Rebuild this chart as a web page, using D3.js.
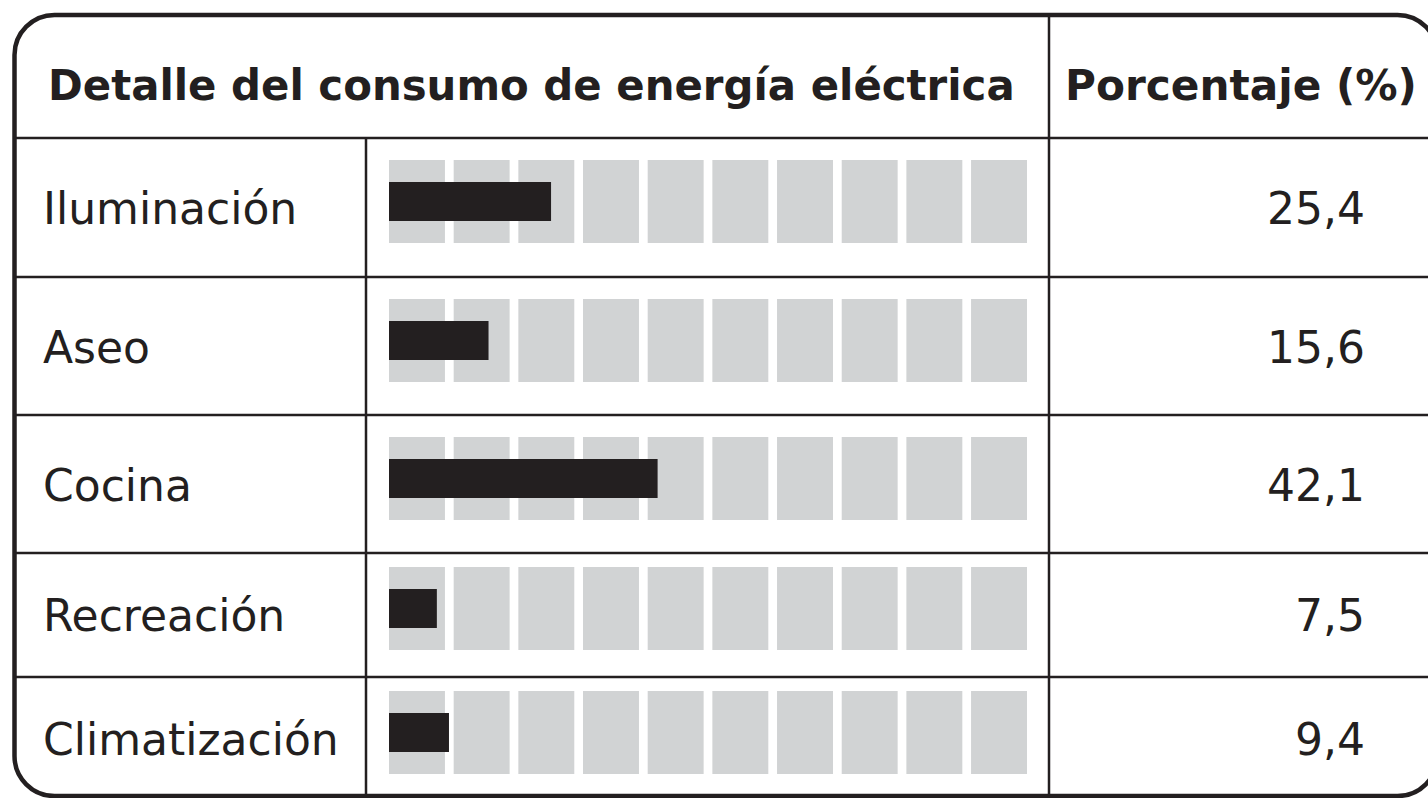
<!DOCTYPE html>
<html>
<head>
<meta charset="utf-8">
<script src="https://cdn.jsdelivr.net/npm/d3@7"></script>
<style>
  html, body { margin: 0; padding: 0; background: #ffffff; }
  svg { display: block; }
  text { font-family: "DejaVu Sans", Verdana, sans-serif; fill: #231f20; }
</style>
</head>
<body>
<svg id="chart" width="1428" height="798"></svg>
<script>
// Electricity consumption breakdown
const categories = ["Iluminación", "Aseo", "Cocina", "Recreación", "Climatización"];
const percentages = [25.4, 15.6, 42.1, 7.5, 9.4];
const valueLabels = ["25,4", "15,6", "42,1", "7,5", "9,4"];
const headers = ["Detalle del consumo de energía eléctrica", "Porcentaje (%)"];
const gridSteps = d3.range(10); // ten background blocks, 10 % each

const ink = "#231f20";
const blockGray = "#d1d3d4";

const svg = d3.select("#chart");

// Table frame geometry
const frame = { x: 14.5, y: 15, w: 1423, h: 781, r: 40 };
const headerBottom = 138;
const rowBounds = [138, 277, 415, 553, 677, 796];
const colSplitLabel = 366;
const colSplitValue = 1049;

// Row bands
const rows = categories.map((c, i) => ({
  name: c,
  value: percentages[i],
  label: valueLabels[i],
  top: rowBounds[i],
  bottom: rowBounds[i + 1]
}));

// Scales for the bar area
const x = d3.scaleLinear().domain([0, 100]).range([389, 1027]);
const blocks = d3.scaleBand().domain(gridSteps).range([389, 1027]).paddingInner(0.135).paddingOuter(0);

const blockH = 83;
const barH = 39;
// block top offset within each row (last two rows are shorter)
const blockTop = (r, i) => r.top + (i < 3 ? 22 : 14);

// Horizontal row separators
svg.append("g")
  .selectAll("line")
  .data(rowBounds.slice(0, -1))
  .join("line")
  .attr("x1", frame.x).attr("x2", 1428)
  .attr("y1", d => d).attr("y2", d => d)
  .attr("stroke", ink).attr("stroke-width", 2.5);

// Vertical separators
svg.append("line")
  .attr("x1", colSplitLabel).attr("x2", colSplitLabel)
  .attr("y1", headerBottom).attr("y2", 798)
  .attr("stroke", ink).attr("stroke-width", 2.5);
svg.append("line")
  .attr("x1", colSplitValue).attr("x2", colSplitValue)
  .attr("y1", frame.y).attr("y2", 798)
  .attr("stroke", ink).attr("stroke-width", 2.5);

// Rows
const rowG = svg.append("g")
  .selectAll("g")
  .data(rows)
  .join("g");

rowG.each(function (r, i) {
  const g = d3.select(this);
  const top = blockTop(r, i);
  const mid = top + blockH / 2;

  g.selectAll("rect.block")
    .data(gridSteps)
    .join("rect")
    .attr("class", "block")
    .attr("x", d => blocks(d))
    .attr("y", top)
    .attr("width", blocks.bandwidth())
    .attr("height", blockH)
    .attr("fill", blockGray);

  g.append("rect")
    .attr("class", "bar")
    .attr("x", x(0))
    .attr("y", mid - barH / 2)
    .attr("width", x(r.value) - x(0))
    .attr("height", barH)
    .attr("fill", ink);

  g.append("text")
    .attr("x", 43)
    .attr("y", mid + 22)
    .attr("font-size", 44)
    .text(r.name);

  g.append("text")
    .attr("x", 1365)
    .attr("y", mid + 22)
    .attr("text-anchor", "end")
    .attr("font-size", 44)
    .text(r.label);
});

// Header titles, sized so each fits its cell width
function fittedHeader(text, x0, width) {
  const t = svg.append("text")
    .attr("x", x0).attr("y", 100)
    .attr("font-size", 45).attr("font-weight", "bold")
    .text(text);
  const len = t.node().getComputedTextLength();
  if (len > width) t.attr("font-size", 45 * width / len);
  return t;
}
fittedHeader(headers[0], 48, 967);
fittedHeader(headers[1], 1065, 352);

// Rounded outer frame
svg.append("rect")
  .attr("x", frame.x).attr("y", frame.y)
  .attr("width", frame.w).attr("height", frame.h)
  .attr("rx", frame.r).attr("ry", frame.r)
  .attr("fill", "none")
  .attr("stroke", ink).attr("stroke-width", 4.5);
</script>
</body>
</html>
